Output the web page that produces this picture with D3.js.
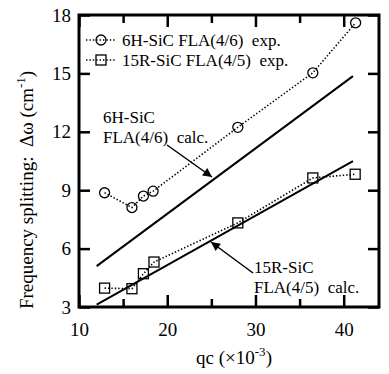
<!DOCTYPE html>
<html><head><meta charset="utf-8">
<script src="https://cdn.jsdelivr.net/npm/d3@7"></script>
<style>
body{margin:0;background:#fff;}
</style></head>
<body><svg id="c" width="389" height="374"></svg>
<script>
const FF = "'Liberation Serif', 'Times New Roman', Times, 'DejaVu Serif', serif";
// Data
const qc6H = [12.9, 16.0, 17.3, 18.4, 28.0, 36.5, 41.35];
const dw6H = [8.87, 8.11, 8.7, 8.95, 12.23, 15.03, 17.6];
const qc15R = [12.9, 16.0, 17.3, 18.5, 28.0, 36.5, 41.3];
const dw15R = [3.97, 3.94, 4.71, 5.31, 7.32, 9.63, 9.82];
const calcQc = [12.0, 41.05];
const calc6H = [5.1, 14.86];
const calc15R = [3.12, 10.49];
const xMajor = [10, 20, 30, 40];
const xMinor = [15, 25, 35];
const yTicks = [3, 6, 9, 12, 15, 18];

const svg = d3.select("#c").attr("font-family", FF);
const L = 79, R = 379, T = 15, B = 307;
const x = d3.scaleLinear().domain([10, 44]).range([L, R]);
const y = d3.scaleLinear().domain([3, 18]).range([B, T]);

const line = d3.line().x(d => x(d[0])).y(d => y(d[1]));
const p6 = qc6H.map((q, i) => [q, dw6H[i]]);
const p15 = qc15R.map((q, i) => [q, dw15R[i]]);
[p6, p15].forEach(p => svg.append("path").attr("d", line(p)).attr("fill", "none")
  .attr("stroke", "#000").attr("stroke-width", 1.6).attr("stroke-dasharray", "1.4,2"));

[calc6H, calc15R].forEach(c => svg.append("path")
  .attr("d", line(calcQc.map((q, i) => [q, c[i]])))
  .attr("fill", "none").attr("stroke", "#000").attr("stroke-width", 2));

svg.selectAll("circle.m").data(p6).enter().append("circle")
  .attr("cx", d => x(d[0])).attr("cy", d => y(d[1])).attr("r", 5)
  .attr("fill", "none").attr("stroke", "#000").attr("stroke-width", 1.3);
svg.selectAll("rect.m").data(p15).enter().append("rect")
  .attr("x", d => x(d[0]) - 5).attr("y", d => y(d[1]) - 5).attr("width", 10).attr("height", 10)
  .attr("fill", "none").attr("stroke", "#000").attr("stroke-width", 1.3);

function style(g) {
  g.attr("font-family", FF).attr("font-size", 19);
  g.select(".domain").remove();
  g.selectAll(".tick line").attr("stroke", "#000").attr("stroke-width", 2.5);
  g.selectAll(".tick text").attr("fill", "#000");
}
svg.append("g").attr("transform", `translate(0,${B})`)
  .call(d3.axisBottom(x).tickValues(xMajor).tickSize(-12).tickPadding(16).tickFormat(d3.format("d"))).call(style);
svg.append("g").attr("transform", `translate(0,${B})`)
  .call(d3.axisBottom(x).tickValues(xMinor).tickSize(-8).tickFormat("")).call(style);
svg.append("g").attr("transform", `translate(0,${T})`)
  .call(d3.axisTop(x).tickValues(xMajor).tickSize(-12).tickFormat("")).call(style);
svg.append("g").attr("transform", `translate(0,${T})`)
  .call(d3.axisTop(x).tickValues(xMinor).tickSize(-8).tickFormat("")).call(style);
svg.append("g").attr("transform", `translate(${L},0)`)
  .call(d3.axisLeft(y).tickValues(yTicks).tickSize(-11).tickPadding(8).tickFormat(d3.format("d"))).call(style);
svg.append("g").attr("transform", `translate(${R},0)`)
  .call(d3.axisRight(y).tickValues(yTicks).tickSize(-11).tickFormat("")).call(style);

svg.append("rect").attr("x", L).attr("y", T).attr("width", R - L).attr("height", B - T)
  .attr("fill", "none").attr("stroke", "#000").attr("stroke-width", 3);

const xt = svg.append("text").attr("x", 234).attr("y", 364).attr("text-anchor", "middle").attr("font-size", 19).style("white-space", "pre");
xt.append("tspan").text("qc (×10");
xt.append("tspan").attr("dy", -8).attr("font-size", 13).text("-3");
xt.append("tspan").attr("dy", 8).text(")");
const yt = svg.append("text").attr("transform", "translate(33,190) rotate(-90)").attr("text-anchor", "middle").attr("font-size", 19).style("white-space", "pre");
yt.append("tspan").text("Frequency splitting:  Δω (cm");
yt.append("tspan").attr("dy", -8).attr("font-size", 13).text("-1");
yt.append("tspan").attr("dy", 8).text(")");

const leg = [["6H-SiC FLA(4/6)  exp.", "c", 40], ["15R-SiC FLA(4/5)  exp.", "s", 60]];
leg.forEach(([t, m, yy]) => {
  svg.append("line").attr("x1", 86).attr("x2", 115).attr("y1", yy).attr("y2", yy)
    .attr("stroke", "#000").attr("stroke-width", 1.6).attr("stroke-dasharray", "1.4,2");
  if (m === "c") svg.append("circle").attr("cx", 101).attr("cy", yy).attr("r", 5)
    .attr("fill", "none").attr("stroke", "#000").attr("stroke-width", 1.3);
  else svg.append("rect").attr("x", 96).attr("y", yy - 5).attr("width", 10).attr("height", 10)
    .attr("fill", "none").attr("stroke", "#000").attr("stroke-width", 1.3);
  svg.append("text").attr("x", 122).attr("y", yy + 6).attr("font-size", 17).style("white-space", "pre").text(t);
});

svg.append("defs").append("marker").attr("id", "ah").attr("viewBox", "0 0 10 10")
  .attr("refX", 10).attr("refY", 5).attr("markerWidth", 14).attr("markerHeight", 9)
  .attr("markerUnits", "userSpaceOnUse").attr("orient", "auto")
  .append("path").attr("d", "M0,0L10,5L0,10z").attr("fill", "#000");
function ann(lines, tx, ty, dy, x1, y1, x2, y2) {
  lines.forEach((s, i) => svg.append("text").attr("x", tx).attr("y", ty + i * dy).attr("font-size", 17).style("white-space", "pre").text(s));
  svg.append("line").attr("x1", x1).attr("y1", y1).attr("x2", x2).attr("y2", y2)
    .attr("stroke", "#000").attr("stroke-width", 1.5).attr("marker-end", "url(#ah)");
}
ann(["6H-SiC", "FLA(4/6)  calc."], 103, 123, 20, 167, 145, 212, 177);
ann(["15R-SiC", "FLA(4/5)  calc."], 254, 273, 20, 253, 273, 211, 242);
</script></body></html>
